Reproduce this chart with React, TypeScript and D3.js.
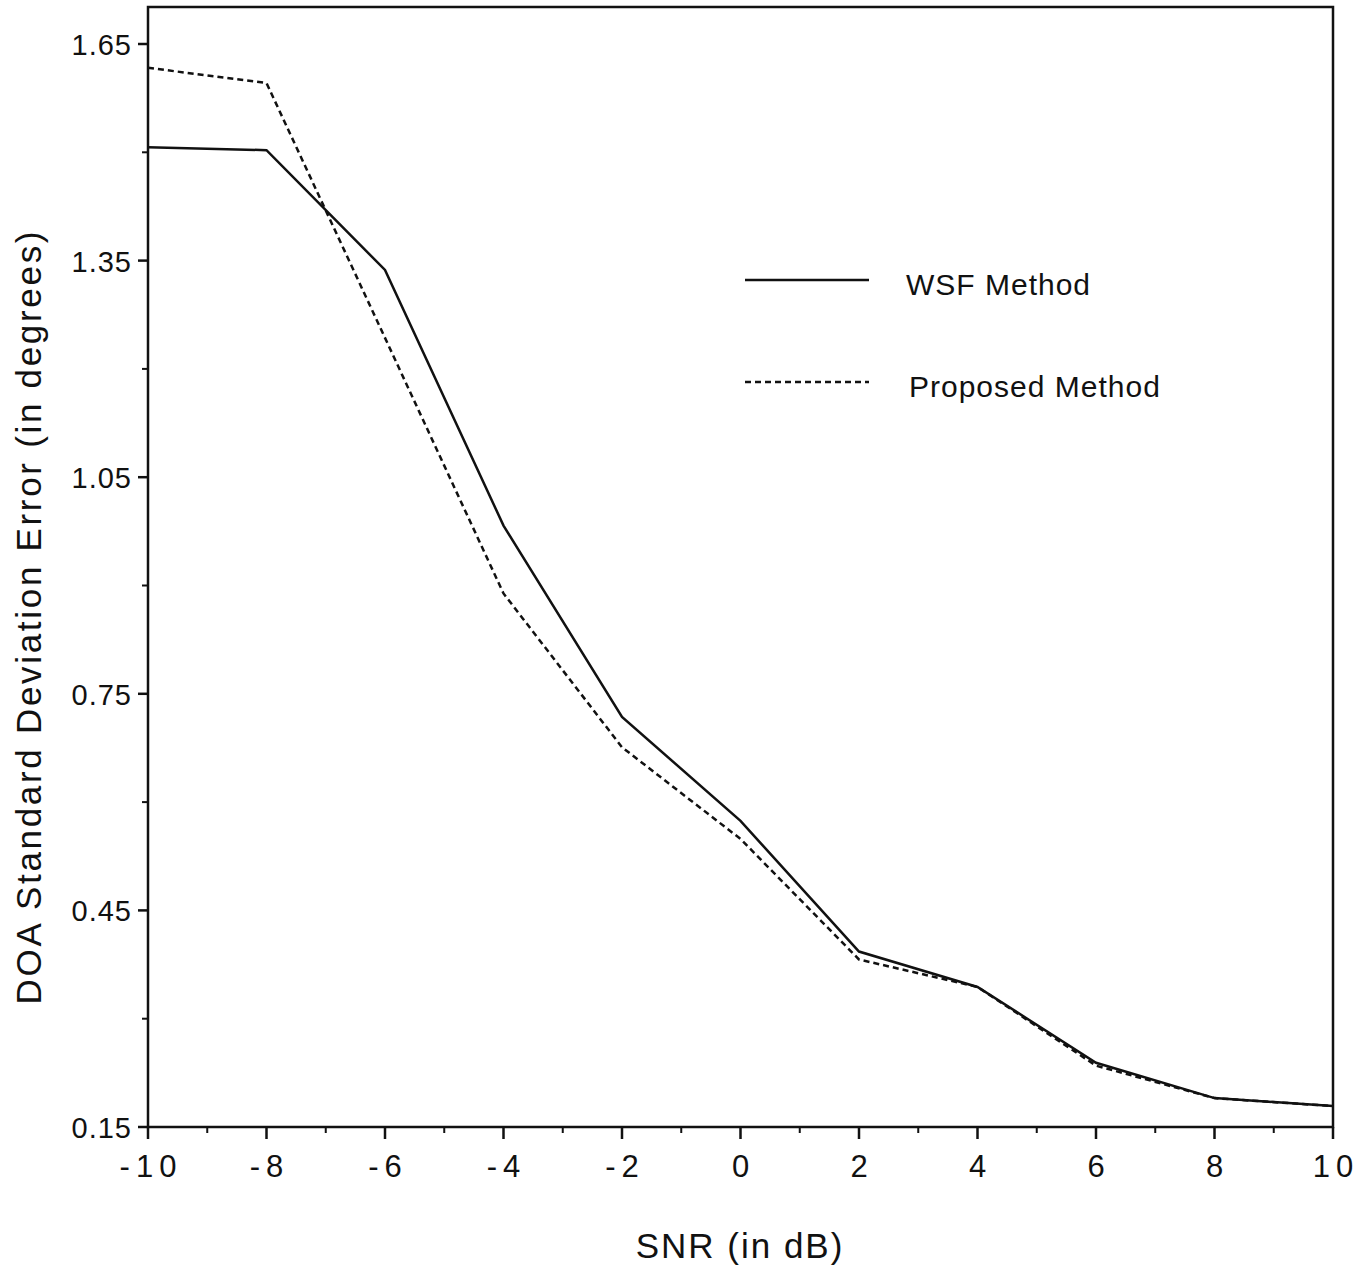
import { useEffect, useRef } from 'react';
import * as d3 from 'd3';

const snr = [-10, -8, -6, -4, -2, 0, 2, 4, 6, 8, 10];
const wsf = [1.507, 1.503, 1.337, 0.983, 0.718, 0.574, 0.393, 0.344, 0.239, 0.19, 0.179];
const proposed = [1.617, 1.596, 1.243, 0.889, 0.676, 0.549, 0.382, 0.344, 0.235, 0.19, 0.179];
const yTicks = [0.15, 0.45, 0.75, 1.05, 1.35, 1.65];
const yMinor = [0.3, 0.6, 0.9, 1.2, 1.5];
const xTicks = [-10, -8, -6, -4, -2, 0, 2, 4, 6, 8, 10];
const xMinor = [-9, -7, -5, -3, -1, 1, 3, 5, 7, 9];
const legendItems = [
  { label: 'WSF Method', dash: null },
  { label: 'Proposed Method', dash: '6,4' },
];

const FONT = 'Liberation Sans, Arial, sans-serif';

export default function App() {
  const svgRef = useRef<SVGSVGElement | null>(null);

  useEffect(() => {
    if (!svgRef.current) return;
    const svg = d3.select(svgRef.current);
    svg.selectAll('*').remove();

    const left = 148, right = 1333, top = 7, bottom = 1127;
    const x = d3.scaleLinear().domain([-10, 10]).range([left, right]);
    const y = d3.scaleLinear().domain([0.15, 1.65]).range([bottom, 44]);

    // frame
    svg.append('rect').attr('x', left).attr('y', top)
      .attr('width', right - left).attr('height', bottom - top)
      .attr('fill', 'none').attr('stroke', '#111').attr('stroke-width', 2.5);

    // y ticks
    const yAxis = svg.append('g').style('font-family', FONT);
    yAxis.selectAll('.maj').data(yTicks).join('line')
      .attr('x1', left - 10).attr('x2', left).attr('y1', d => y(d)).attr('y2', d => y(d))
      .attr('stroke', '#111').attr('stroke-width', 2.5);
    yAxis.selectAll('.min').data(yMinor).join('line')
      .attr('x1', left - 6).attr('x2', left).attr('y1', d => y(d)).attr('y2', d => y(d))
      .attr('stroke', '#111').attr('stroke-width', 2);
    yAxis.selectAll('text').data(yTicks).join('text')
      .attr('x', left - 16).attr('y', d => y(d) + 11)
      .attr('text-anchor', 'end').style('font-size', '29px').style('letter-spacing', '1px')
      .attr('fill', '#111')
      .text(d => d.toFixed(2));

    // x ticks
    const xAxis = svg.append('g').style('font-family', FONT);
    xAxis.selectAll('.maj').data(xTicks).join('line')
      .attr('x1', d => x(d)).attr('x2', d => x(d)).attr('y1', bottom).attr('y2', bottom + 12)
      .attr('stroke', '#111').attr('stroke-width', 2.5);
    xAxis.selectAll('.min').data(xMinor).join('line')
      .attr('x1', d => x(d)).attr('x2', d => x(d)).attr('y1', bottom).attr('y2', bottom + 6)
      .attr('stroke', '#111').attr('stroke-width', 2);
    xAxis.selectAll('text').data(xTicks).join('text')
      .attr('x', d => x(d) + 3).attr('y', bottom + 50)
      .attr('text-anchor', 'middle').style('font-size', '31px').style('letter-spacing', '6px')
      .attr('fill', '#111')
      .text(d => String(d));

    // lines
    const line = d3.line<number>().x((_, i) => x(snr[i])).y(d => y(d));
    svg.append('path').attr('d', line(wsf)).attr('fill', 'none')
      .attr('stroke', '#111').attr('stroke-width', 2.5);
    svg.append('path').attr('d', line(proposed)).attr('fill', 'none')
      .attr('stroke', '#111').attr('stroke-width', 2.5).attr('stroke-dasharray', '6,4');

    // legend
    const lg = svg.append('g').style('font-family', FONT);
    legendItems.forEach((d, i) => {
      const ly = 280 + i * 102;
      const l = lg.append('line').attr('x1', 745).attr('x2', 869).attr('y1', ly).attr('y2', ly)
        .attr('stroke', '#111').attr('stroke-width', 2.5);
      if (d.dash) l.attr('stroke-dasharray', d.dash);
      lg.append('text').attr('x', 906 + i * 3).attr('y', ly + 15)
        .style('font-size', '30px').style('letter-spacing', '1px').attr('fill', '#111').text(d.label);
    });

    // axis titles
    svg.append('text').attr('x', 740).attr('y', 1258).attr('text-anchor', 'middle')
      .style('font-family', FONT).style('font-size', '35px').style('letter-spacing', '2px')
      .attr('fill', '#111')
      .text('SNR (in dB)');
    svg.append('text').attr('transform', 'translate(41,618) rotate(-90)').attr('text-anchor', 'middle')
      .style('font-family', FONT).style('font-size', '35px').attr('fill', '#111')
      .attr('textLength', 773)
      .text('DOA Standard Deviation Error (in degrees)');
  }, []);

  return (
    <svg ref={svgRef} width={1371} height={1276}
      style={{ position: 'absolute', left: 0, top: 0, background: '#fff' }} />
  );
}
